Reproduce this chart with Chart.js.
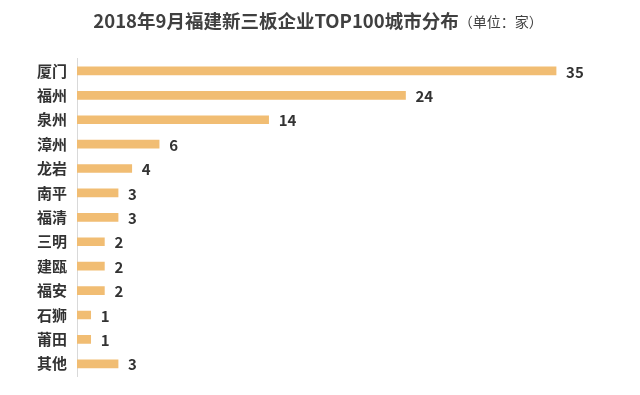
<!DOCTYPE html>
<html>
<head>
<meta charset="utf-8">
<script src="https://cdn.jsdelivr.net/npm/chart.js@4/dist/chart.umd.min.js"></script>
<style>
html,body{margin:0;padding:0;background:#fff;}
#wrap{width:640px;height:395px;position:relative;}
</style>
</head>
<body>
<div id="wrap"><canvas id="c" width="640" height="395"></canvas></div>
<script>
const titleText = "2018年9月福建新三板企业TOP100城市分布";
const subtitleText = "（单位：家）";
const categories = ["厦门","福州","泉州","漳州","龙岩","南平","福清","三明","建瓯","福安","石狮","莆田","其他"];
const counts = [35,24,14,6,4,3,3,2,2,2,1,1,3];

const FONT = "'Noto Sans CJK SC','Noto Sans',sans-serif";

const titlePlugin = {
  id: 'titlePlugin',
  afterDraw(chart) {
    const ctx = chart.ctx;
    ctx.save();
    ctx.fillStyle = '#404040';
    ctx.textBaseline = 'middle';
    ctx.font = "bold 18.5px " + FONT;
    const w1 = ctx.measureText(titleText).width;
    ctx.font = "14px " + FONT;
    const w2 = ctx.measureText(subtitleText).width;
    const total = w1 + w2;
    const start = 318 - total / 2;
    ctx.font = "bold 18.5px " + FONT;
    ctx.textAlign = 'left';
    ctx.fillText(titleText, start, 21);
    ctx.font = "14px " + FONT;
    ctx.fillText(subtitleText, start + w1, 22);
    ctx.restore();
  }
};

const valuePlugin = {
  id: 'valuePlugin',
  afterDatasetsDraw(chart) {
    const ctx = chart.ctx;
    const meta = chart.getDatasetMeta(0);
    ctx.save();
    ctx.font = "bold 15px " + FONT;
    ctx.fillStyle = '#333333';
    ctx.textAlign = 'left';
    ctx.textBaseline = 'middle';
    meta.data.forEach((el, i) => {
      ctx.fillText(String(chart.data.datasets[0].data[i]), el.x + 10, el.y + 1);
    });
    ctx.restore();
  }
};

new Chart(document.getElementById('c'), {
  type: 'bar',
  data: {
    labels: categories,
    datasets: [{
      data: counts,
      backgroundColor: '#F1BD73',
      borderWidth: 0,
      barThickness: 8
    }]
  },
  options: {
    indexAxis: 'y',
    responsive: false,
    animation: false,
    layout: { padding: { top: 58.7, bottom: 15.7, left: 0, right: 15.5 } },
    plugins: {
      legend: { display: false },
      title: { display: false },
      tooltip: { enabled: false }
    },
    scales: {
      x: {
        display: false,
        min: 0,
        max: 40
      },
      y: {
        afterFit(scale) { scale.width = 77; },
        grid: { display: false, drawTicks: false },
        border: { display: true, color: '#d9d9d9', width: 1 },
        ticks: {
          padding: 10,
          color: '#333333',
          font: { family: FONT, size: 15, weight: 'bold' }
        }
      }
    }
  },
  plugins: [titlePlugin, valuePlugin]
});
</script>
</body>
</html>
